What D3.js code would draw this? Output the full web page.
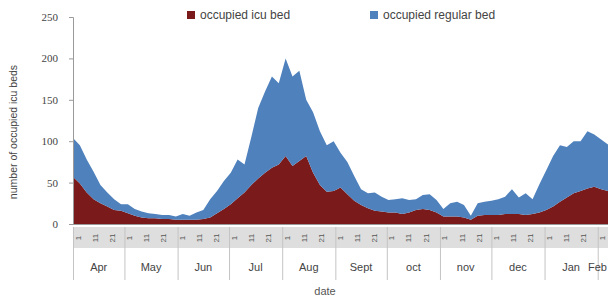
<!DOCTYPE html>
<html><head><meta charset="utf-8">
<script src="https://cdn.jsdelivr.net/npm/d3@7/dist/d3.min.js"></script>
<style>
body{margin:0;background:#fff;}
svg{display:block;font-family:"Liberation Sans",Arial,sans-serif;}
</style></head>
<body><svg id="c" width="608" height="299"></svg>
<script>
const dates = ["2020-04-01","2020-04-05","2020-04-09","2020-04-13","2020-04-17","2020-04-21","2020-04-25","2020-04-29",
"2020-05-03","2020-05-07","2020-05-11","2020-05-15","2020-05-19","2020-05-23","2020-05-27","2020-05-31",
"2020-06-04","2020-06-08","2020-06-12","2020-06-16","2020-06-20","2020-06-24","2020-06-28",
"2020-07-02","2020-07-06","2020-07-10","2020-07-14","2020-07-18","2020-07-22","2020-07-26","2020-07-30",
"2020-08-03","2020-08-07","2020-08-11","2020-08-15","2020-08-19","2020-08-23","2020-08-27","2020-08-31",
"2020-09-04","2020-09-08","2020-09-12","2020-09-16","2020-09-20","2020-09-24","2020-09-28",
"2020-10-02","2020-10-06","2020-10-10","2020-10-14","2020-10-18","2020-10-22","2020-10-26","2020-10-30",
"2020-11-03","2020-11-07","2020-11-11","2020-11-15","2020-11-19","2020-11-23","2020-11-27",
"2020-12-01","2020-12-05","2020-12-09","2020-12-13","2020-12-17","2020-12-21","2020-12-25","2020-12-29",
"2021-01-02","2021-01-06","2021-01-10","2021-01-14","2021-01-18","2021-01-22","2021-01-26","2021-01-30",
"2021-02-03","2021-02-07"];
const icuBeds = [57,49,38,30,25,21,17,16,13,10,
8,7,7,6,6,5,5,5,5,6,
8,13,18,24,31,38,47,55,62,68,
72,82,70,76,82,62,47,39,40,44,
36,28,23,19,16,15,14,14,12,14,
17,18,17,14,9,9,9,8,5,10,
11,11,11,12,12,12,11,12,14,17,
21,27,32,37,40,43,45,42,40];
const regularBeds = [47,46,40,33,22,17,13,8,11,8,
7,6,5,5,5,4,7,5,9,11,
22,27,34,38,47,34,58,85,98,110,
98,118,108,109,68,73,65,56,60,42,
39,30,19,18,22,18,15,16,19,15,
13,17,19,15,9,16,18,15,5,15,
16,17,19,21,30,20,26,18,34,48,
61,68,61,63,60,69,63,60,56];
const yTicks = [0,50,100,150,200,250];
const months = ["Apr","May","Jun","Jul","Aug","Sept","oct","nov","dec","Jan","Feb"];
const monthStarts = ["2020-04-01","2020-05-01","2020-06-01","2020-07-01","2020-08-01","2020-09-01","2020-10-01","2020-11-01","2020-12-01","2021-01-01","2021-02-01"];
const dayLabels = [1,11,21];
const seriesNames = ["occupied icu bed","occupied regular bed"];
const colors = ["#7a1a1a","#4f81bd"];

const svg = d3.select("#c");
const parse = d3.timeParse("%Y-%m-%d");
const x0 = 73, x1 = 608, yTop = 17, yBot = 224;
const domStart = parse(dates[0]), domEnd = parse(dates[dates.length-1]);
const x = d3.scaleTime().domain([domStart, domEnd]).range([x0, x1]);
const y = d3.scaleLinear().domain([0,250]).range([yBot, yTop]);

const rows = dates.map((d,i)=>({date:parse(d), icu:icuBeds[i], reg:regularBeds[i]}));
const stack = d3.stack().keys(["icu","reg"])(rows);

svg.append("defs").append("clipPath").attr("id","pc").append("rect")
  .attr("x",x0).attr("y",0).attr("width",x1-x0).attr("height",yBot+1);

const area = d3.area().x(d=>x(d.data.date)).y0(d=>y(d[0])).y1(d=>y(d[1]));
const g = svg.append("g").attr("clip-path","url(#pc)");
g.selectAll("path").data(stack).join("path")
  .attr("d",area).attr("fill",(d,i)=>colors[i]);

// y axis
const yAxis = d3.axisLeft(y).tickValues(yTicks).tickSize(4).tickPadding(11);
const ya = svg.append("g").attr("transform",`translate(${x0},0)`).call(yAxis);
ya.select(".domain").attr("stroke","#9a9a9a");
ya.selectAll(".tick line").attr("stroke","#9a9a9a");
ya.selectAll("text").attr("font-size",11).attr("fill","#444").attr("font-family","'Liberation Serif',serif");

// x axis band with day labels
svg.append("rect").attr("x",x0).attr("y",yBot+3).attr("width",x1-x0).attr("height",21).attr("fill","#dedede");
svg.append("line").attr("x1",x0).attr("x2",x1).attr("y1",yBot+0.5).attr("y2",yBot+0.5).attr("stroke","#9a9a9a");

const dayTicks = [];
monthStarts.forEach(ms=>{
  const m = parse(ms);
  dayLabels.forEach(dl=>{
    const dt = new Date(m.getFullYear(), m.getMonth(), dl);
    if (dt <= domEnd) dayTicks.push({date:dt, label:String(dl)});
  });
});
svg.append("g").selectAll("text").data(dayTicks).join("text")
  .attr("transform",d=>`translate(${x(d.date)+5},${yBot+14}) rotate(-90)`)
  .attr("text-anchor","middle").attr("dominant-baseline","central")
  .attr("font-size",8).attr("fill","#555").text(d=>d.label);

// month separators and labels
const msDates = monthStarts.map(parse);
svg.append("g").selectAll("line").data(msDates).join("line")
  .attr("x1",d=>x(d)+0.5).attr("x2",d=>x(d)+0.5).attr("y1",yBot+3).attr("y2",280)
  .attr("stroke","#c4c4c4");
svg.append("g").selectAll("text").data(months).join("text")
  .attr("x",(d,i)=>{
    if (i+1>=msDates.length) return 607;
    return (x(msDates[i])+x(msDates[i+1]))/2;
  })
  .attr("text-anchor",(d,i)=> i+1>=msDates.length ? "end" : "middle")
  .attr("y",271).attr("font-size",11).attr("fill","#444").text(d=>d);

// axis titles
svg.append("text").attr("x",325).attr("y",295).attr("text-anchor","middle")
  .attr("font-size",11).attr("fill","#555").text("date");
svg.append("text").attr("transform","translate(17,132) rotate(-90)").attr("text-anchor","middle")
  .attr("font-size",10.5).attr("fill","#444").text("number of occupied icu beds");

// legend
const legX = [187, 370];
const lg = svg.append("g");
seriesNames.forEach((n,i)=>{
  lg.append("rect").attr("x",legX[i]).attr("y",11).attr("width",8).attr("height",8).attr("fill",colors[i]);
  lg.append("text").attr("x",legX[i]+13).attr("y",19).attr("font-size",12).attr("fill","#444").text(n);
});
</script></body></html>
